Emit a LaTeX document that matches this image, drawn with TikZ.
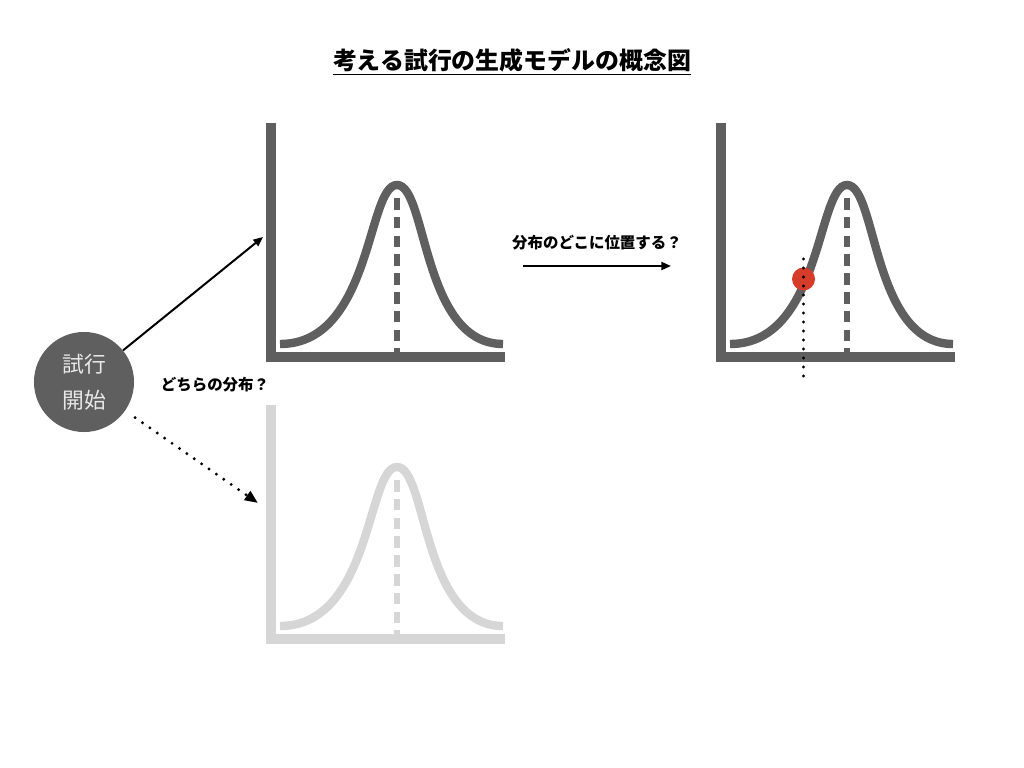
\documentclass[tikz,border=0pt]{standalone}
\usepackage{fontspec}
\setmainfont{Noto Sans CJK JP}
\usetikzlibrary{arrows.meta, positioning}
\definecolor{cdark}{HTML}{5F5F5F}
\definecolor{clight}{HTML}{D6D6D6}
\definecolor{cred}{HTML}{D63C2A}
\definecolor{cfaint}{HTML}{E8E8E8}
\tikzset{
  axisline/.style={draw=#1, line width=0.25cm, line join=miter},
  bell/.style={draw=#1, line width=0.21cm},
  meanline/.style={draw=#1, line width=0.17cm, dash pattern=on 0.29cm off 0.18cm},
  arrow/.style={-{Triangle[length=0.24cm, width=0.2cm]}, line width=0.05cm},
  dotline/.style={line width=0.08cm, line cap=round, dash pattern=on 0pt off 0.225cm},
  qtext/.style={font=\bfseries\fontsize{11}{13}\selectfont},
}

\begin{document}
\begin{tikzpicture}[x=0.025cm, y=-0.025cm]
  \useasboundingbox (0,0) rectangle (1024,768);
  % title
  \node[font=\bfseries\fontsize{17}{21}\selectfont] (title) at (512,62) {\underline{考える試行の生成モデルの概念図}};
  % the distributions
  \foreach \dx/\dy/\c in {0/0/cdark, 0/282/clight, 450/0/cdark} {
    \begin{scope}[shift={(\dx,\dy)}]
      \draw[meanline=\c] (397,198) -- (397,354);
      \draw[bell=\c] (280,344) .. controls (372,344) and (367,185) .. (397,185)
        .. controls (427,185) and (422,344) .. (503,344);
      \draw[axisline=\c] (271,123) -- (271,357) -- (505,357);
    \end{scope}
  }
  % start of a trial
  \node[circle, fill=cdark, minimum size=2.5cm, inner sep=0pt, text=cfaint, align=center,
        font=\fontsize{15.5}{25.6}\selectfont] (start) at (84,382) {試行\\開始};
  \coordinate (in1) at (263,237);
  \coordinate (in2) at (258,503);
  \draw[arrow] (start) -- (in1);
  \draw[dotline, -{Triangle[length=0.33cm, width=0.26cm]}, shorten <=0.3cm] (start) -- (in2);
  \node[qtext] (which) at (215,385) {どちらの分布？};
  % where in the distribution
  \coordinate (q1) at (523,266);
  \coordinate (q2) at (671,266);
  \draw[arrow] (q1) -- (q2);
  \node[qtext] (where) at (597,243) {分布のどこに位置する？};
  \fill[cred] (803.5,279) circle (11.5);
  \draw[dotline] (803.5,259) -- (803.5,378);
\end{tikzpicture}
\end{document}
